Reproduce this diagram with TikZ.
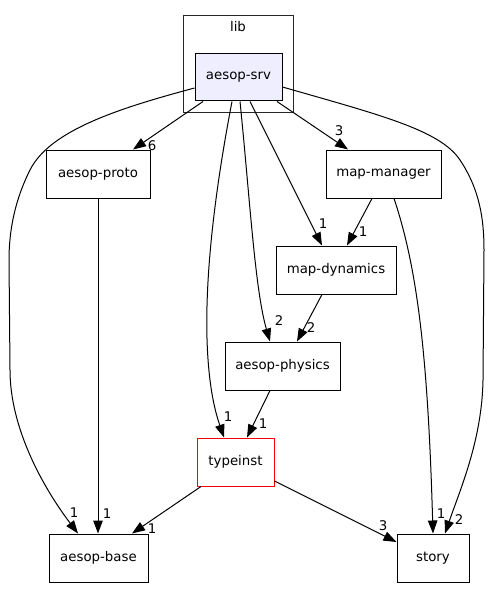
\documentclass[tikz,border=0pt]{standalone}
\usepackage{fontspec}
\setmainfont{DejaVu Sans}
\usetikzlibrary{arrows.meta,calc}
\definecolor{srvfill}{HTML}{EEEEFF}
\begin{document}
\begin{tikzpicture}[x=1pt,y=-1pt,
  every node/.style={font=\fontsize{13.33}{16}\selectfont},
  box/.style={draw=black,line width=1pt,fill=white,inner sep=0pt,minimum height=48pt},
  edge/.style={draw=black,line width=1pt,-{Triangle[length=13pt,width=9.5pt]}},
  lbl/.style={inner sep=0pt}]
\useasboundingbox[fill=white] (0,0) rectangle (493,599);
% cluster
\node[draw=black!85,line width=1pt,minimum width=110pt,minimum height=97pt,inner sep=0pt] (lib) at (238,64.5) {};
\node[lbl] (libl) at (238,27) {lib};
% nodes
\node[box,fill=srvfill,minimum width=87pt,minimum height=47pt] (srv) at (238.5,77.5) {aesop-srv};
\node[box,minimum width=104pt] (proto) at (98,174) {aesop-proto};
\node[box,minimum width=115pt] (mgr) at (383.5,174) {map-manager};
\node[box,minimum width=120pt] (dyn) at (336,270) {map-dynamics};
\node[box,minimum width=115pt] (phys) at (282.5,366) {aesop-physics};
\node[box,draw=red,minimum width=77pt] (ti) at (235.5,462) {typeinst};
\node[box,minimum width=99pt] (base) at (98.5,558) {aesop-base};
\node[box,minimum width=72pt] (story) at (433,558) {story};
% edges
\draw[edge] ($(srv.west)+(0,10.5)$) .. controls (120,108) and (50,130) .. (30,170)
  .. controls (15,200) and (9,230) .. (9,260) -- (10,370)
  .. controls (10,430) and (45,490) .. ($(base.north)+(-20.5,0)$);
\node[lbl] (l1) at (74,513) {1};
\draw[edge] ($(srv.south)+(-35.5,0)$) -- ($(proto.north)+(35,0)$);
\node[lbl] (l2) at (152,146) {6};
\draw[edge] ($(srv.south)+(-6.5,0)$) .. controls (215,190) and (200,300) .. (210,380)
  .. controls (213,405) and (218,420) .. ($(ti.north)+(-11.5,0)$);
\node[lbl] (l3) at (228,417) {1};
\draw[edge] ($(srv.south)+(1.5,0)$) .. controls (250,200) and (255,290) .. ($(phys.north)+(-12.5,0)$);
\node[lbl] (l4) at (279,321) {2};
\draw[edge] ($(srv.south)+(11.5,0)$) -- ($(dyn.north)+(-14,0)$);
\node[lbl] (l5) at (323,224) {1};
\draw[edge] ($(srv.south)+(38.5,0)$) -- ($(mgr.north)+(-35.5,0)$);
\node[lbl] (l6) at (339,131) {3};
\draw[edge] ($(srv.east)+(0,9.5)$) .. controls (380,115) and (440,130) .. (460,160)
  .. controls (480,190) and (484,220) .. (484,250) -- (483,380)
  .. controls (482,440) and (460,490) .. ($(story.north)+(12,0)$);
\node[lbl] (l7) at (459,520) {2};
\draw[edge] (proto.south) -- ($(base.north)+(-0.5,0)$);
\node[lbl] (l8) at (107,514) {1};
\draw[edge] ($(mgr.south)+(-11.5,0)$) -- ($(dyn.north)+(11,0)$);
\node[lbl] (l9) at (363,232) {1};
\draw[edge] ($(mgr.south)+(10.5,0)$) .. controls (418,270) and (428,360) .. (story.north);
\node[lbl] (l10) at (441,514) {1};
\draw[edge] ($(dyn.south)+(-14,0)$) -- ($(phys.north)+(14.5,0)$);
\node[lbl] (l11) at (311,328) {2};
\draw[edge] ($(phys.south)+(-12.5,0)$) -- ($(ti.north)+(11.5,0)$);
\node[lbl] (l12) at (263,424) {1};
\draw[edge] ($(ti.south)+(-34.5,0)$) -- ($(base.north)+(33.5,0)$);
\node[lbl] (l13) at (152,529) {1};
\draw[edge] ($(ti.east)+(0,19)$) -- ($(story.west)+(0,-16)$);
\node[lbl] (l14) at (383,526) {3};
\end{tikzpicture}
\end{document}
